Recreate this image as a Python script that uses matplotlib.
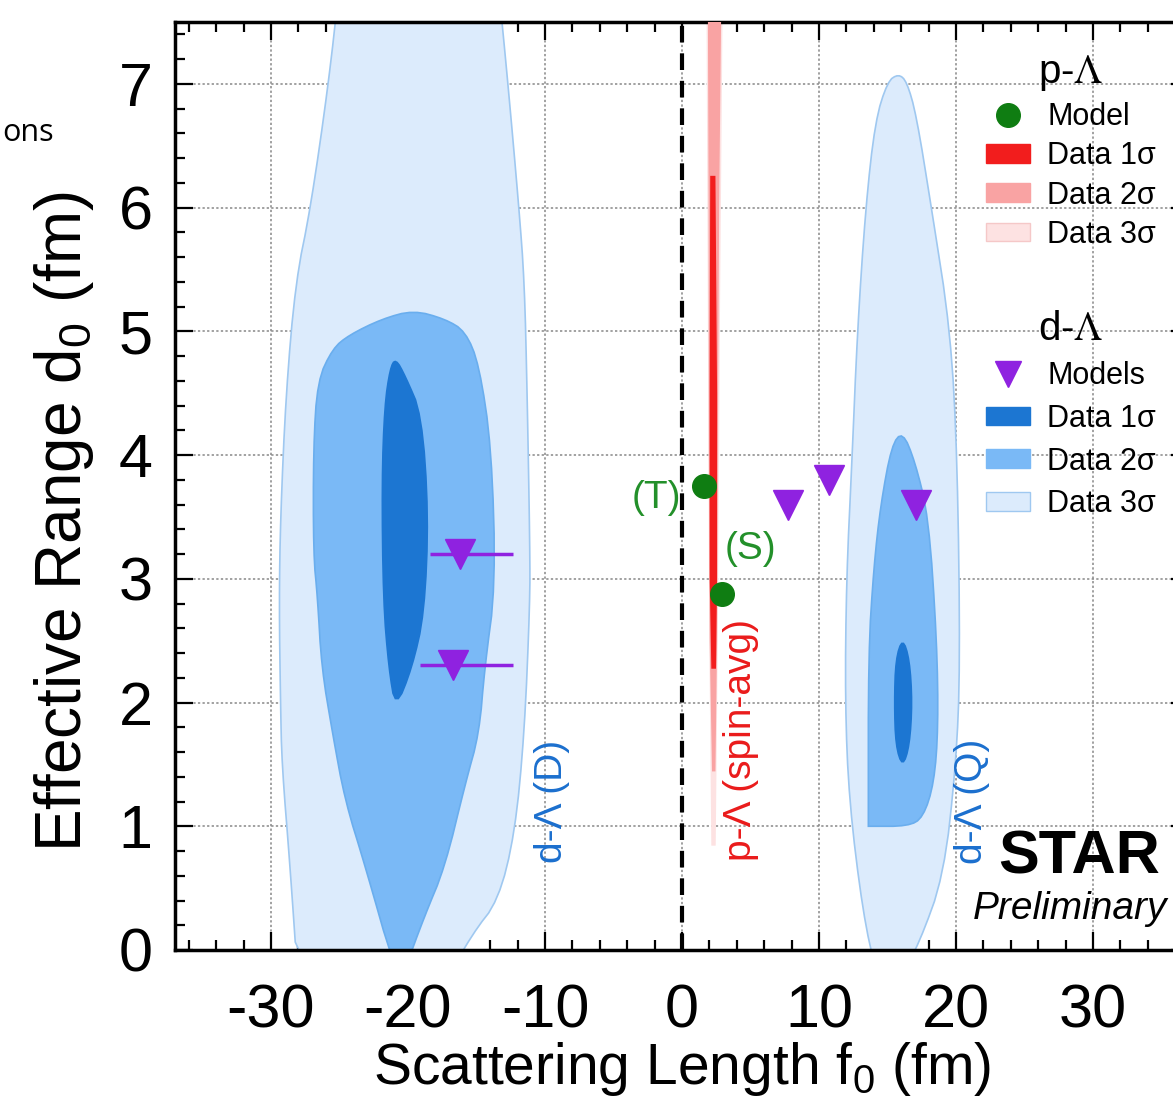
import matplotlib
matplotlib.use("Agg")
import matplotlib.pyplot as plt
from matplotlib.patches import Patch
from matplotlib.lines import Line2D
from matplotlib.font_manager import FontProperties
from matplotlib.ticker import MultipleLocator

plt.rcParams['font.family'] = ['Liberation Sans', 'DejaVu Sans']
plt.rcParams['mathtext.fontset'] = 'custom'
plt.rcParams['mathtext.rm'] = 'Liberation Sans'
plt.rcParams['mathtext.it'] = 'Liberation Sans:italic'
plt.rcParams['axes.unicode_minus'] = False

# ---- data ----
# d-Lambda contours (f0, d0), left solution
dl_left_3s = [(-25.0, 7.8), (-25.8, 7.0), (-27.1, 6.0), (-28.2, 5.4), (-28.9, 4.5), (-29.3, 3.5),
              (-29.4, 2.8), (-29.3, 2.0), (-29.2, 1.5), (-28.6, 0.67), (-28.0, -0.3), (-17.5, -0.3),
              (-15.3, 0.13), (-13.4, 0.4), (-12.2, 0.94), (-11.5, 1.75), (-11.1, 2.8), (-11.1, 3.25),
              (-11.3, 4.5), (-11.5, 5.4), (-11.9, 6.0), (-12.7, 7.0), (-13.4, 7.8)]
dl_left_2s = [(-19.6, 5.17), (-17.3, 5.1), (-15.8, 5.0), (-14.8, 4.73), (-13.9, 4.06), (-13.6, 2.95),
              (-14.4, 2.28), (-14.8, 1.75), (-15.8, 1.35), (-17.3, 0.67), (-18.8, 0.27), (-20.2, -0.15),
              (-21.0, -0.15), (-23.1, 0.67), (-24.6, 1.21), (-25.5, 1.75), (-26.3, 2.28), (-26.6, 2.85),
              (-26.9, 3.2), (-26.9, 4.06), (-26.6, 4.6), (-25.5, 4.86), (-24.3, 4.97), (-21.9, 5.1)]
dl_left_1s = [(-20.9, 4.78), (-20.2, 4.64), (-19.0, 4.33), (-18.5, 3.52), (-18.8, 2.72), (-19.7, 2.28),
              (-20.9, 1.95), (-21.4, 2.28), (-21.8, 2.82), (-21.9, 3.79), (-21.7, 4.4), (-21.3, 4.7)]
# d-Lambda contours, right solution
dl_right_3s = [(15.8, 7.08), (16.4, 7.02), (17.1, 6.75), (18.2, 6.0), (19.6, 5.0), (20.1, 3.95),
               (20.3, 2.3), (20.0, 1.5), (19.1, 0.6), (17.3, 0.05), (16.0, -0.2), (14.2, -0.2),
               (13.2, 0.3), (12.2, 1.2), (11.9, 2.0), (12.0, 3.0), (12.4, 3.95), (12.8, 5.0),
               (13.4, 6.0), (14.1, 6.7), (15.0, 7.02)]
dl_right_2s = [(16.1, 4.19), (17.0, 3.95), (18.0, 3.5), (18.6, 2.5), (18.7, 1.8), (18.4, 1.35),
               (17.6, 1.07), (16.5, 1.0), (13.6, 1.0), (13.6, 1.0), (13.6, 2.4), (14.0, 3.1),
               (14.5, 3.6), (15.3, 4.08)]
dl_right_1s = [(16.1, 2.52), (16.6, 2.35), (16.8, 2.0), (16.6, 1.65), (16.1, 1.48), (15.6, 1.65),
               (15.5, 2.0), (15.6, 2.35)]
# p-Lambda band (spin averaged)
pl_3s = [(1.85, 7.6), (2.9, 7.6), (2.7, 5.0), (2.55, 2.5), (2.4, 0.85), (2.2, 0.85), (2.05, 2.5), (1.95, 5.0)]
pl_2s = [(1.95, 7.6), (2.8, 7.6), (2.65, 6.0), (2.55, 4.0), (2.5, 2.5), (2.38, 1.45), (2.25, 1.45),
         (2.08, 2.5), (2.02, 4.0), (2.0, 6.0)]
pl_1s = [(2.12, 6.25), (2.38, 6.25), (2.5, 4.5), (2.5, 3.0), (2.42, 2.28), (2.2, 2.28), (2.08, 3.0), (2.08, 4.5)]

# p-Lambda models (T), (S)
pl_model_f0 = [1.6, 2.9]
pl_model_d0 = [3.75, 2.88]
pl_model_lab = ['(T)', '(S)']

# d-Lambda models
dl_model_f0 = [-16.2, -16.7, 7.7, 10.7, 17.1]
dl_model_d0 = [3.2, 2.3, 3.6, 3.8, 3.6]
dl_model_xlo = [2.2, 2.4, 0, 0, 0]
dl_model_xhi = [3.9, 4.4, 0, 0, 0]

x_ticks = [-30, -20, -10, 0, 10, 20, 30]
y_ticks = [0, 1, 2, 3, 4, 5, 6, 7]

# ---- colours ----
c3 = '#dcebfc'; c3e = '#9fc8f0'
c2 = '#7ab9f6'
c1 = '#1c76d2'
r3 = '#fde2e2'; r2 = '#f9a3a3'; r1 = '#f21d1d'
purple = '#8f22e0'
green = '#0f7d12'


def smooth(poly, n=2):
    # chaikin corner cutting, closed outline
    pts = list(poly)
    for _ in range(n):
        new = []
        for i in range(len(pts)):
            x0, y0 = pts[i]
            x1, y1 = pts[(i + 1) % len(pts)]
            new.append((0.75 * x0 + 0.25 * x1, 0.75 * y0 + 0.25 * y1))
            new.append((0.25 * x0 + 0.75 * x1, 0.25 * y0 + 0.75 * y1))
        pts = new
    return pts


fig = plt.figure(figsize=(11.73, 10.99), dpi=100)
ax = fig.add_axes([175 / 1173, 1 - 950 / 1099, 1014 / 1173, 928 / 1099])


def fill(poly, color, edge=None, z=1, sm=True):
    pts = smooth(poly) if sm else poly
    xs = [p[0] for p in pts]
    ys = [p[1] for p in pts]
    ax.fill(xs, ys, facecolor=color, edgecolor=edge if edge else color, lw=1.2, zorder=z)


fill(dl_left_3s, c3, c3e)
fill(dl_left_2s, c2, '#6aaeee', 2)
fill(dl_left_1s, c1, c1, 3)
fill(dl_right_3s, c3, c3e)
fill(dl_right_2s, c2, '#6aaeee', 2)
fill(dl_right_1s, c1, c1, 3)
fill(pl_3s, r3, r3, 2, sm=False)
fill(pl_2s, r2, r2, 3, sm=False)
fill(pl_1s, r1, r1, 4, sm=False)

# zero line
ax.axvline(0, color='black', lw=3, ls=(0, (4, 2.6)), zorder=5)

# models
ax.plot(pl_model_f0, pl_model_d0, 'o', color=green, ms=17, zorder=6)
ax.errorbar(dl_model_f0, dl_model_d0, xerr=[dl_model_xlo, dl_model_xhi], fmt='v',
            color=purple, ecolor=purple, elinewidth=2.5, capsize=0, ms=21, zorder=6)

ax.text(pl_model_f0[0] - 1.7, pl_model_d0[0] - 0.1, pl_model_lab[0], color='#23902a', fontsize=28,
        ha='right', va='center')
ax.text(pl_model_f0[1] + 2.1, pl_model_d0[1] + 0.36, pl_model_lab[1], color='#23902a', fontsize=28,
        ha='center', va='center')

ax.text(4.3, 1.7, 'p-Λ (spin-avg)', color='#ea1b1b', fontsize=28, rotation=90, ha='center', va='center')
ax.text(-9.5, 1.2, 'd-Λ (D)', color='#1b6fce', fontsize=28, rotation=90, ha='center', va='center')
ax.text(21.2, 1.2, 'd-Λ (Q)', color='#1b6fce', fontsize=28, rotation=90, ha='center', va='center')

ax.text(23.1, 0.74, 'STAR', fontsize=44, fontweight='bold', ha='left', va='center')
ax.text(21.2, 0.33, 'Preliminary', fontsize=28, style='italic', ha='left', va='center')

# axes
ax.set_xlim(-37, 37)
ax.set_ylim(0, 7.5)
ax.set_xticks(x_ticks)
ax.set_yticks(y_ticks)
ax.xaxis.set_minor_locator(MultipleLocator(2))
ax.yaxis.set_minor_locator(MultipleLocator(0.2))
ax.tick_params(which='both', direction='in', top=True, right=True, width=1.6)
ax.tick_params(which='major', length=13, labelsize=44)
ax.tick_params(which='minor', length=7)
ax.tick_params(axis='x', pad=24)
ax.tick_params(axis='y', pad=16)
for s in ax.spines.values():
    s.set_linewidth(2.5)
ax.grid(True, which='major', ls=(0, (1.5, 1.5)), color='#888888', lw=1.1)
ax.set_axisbelow(True)

ax.set_xlabel('Scattering Length f$_0$ (fm)', fontsize=41, labelpad=0)
ax.set_ylabel('Effective Range d$_0$ (fm)', fontsize=46)
ax.yaxis.set_label_coords(-0.078, 0.462)

# legends
title_fp = FontProperties(family='Liberation Sans', size=29, math_fontfamily='stix')
h1 = [Line2D([], [], ls='none', marker='o', ms=17, color=green),
      Patch(facecolor=r1, edgecolor=r1), Patch(facecolor=r2, edgecolor=r2), Patch(facecolor=r3, edgecolor='#f5c8c8')]
lab1 = ['Model', 'Data 1σ', 'Data 2σ', 'Data 3σ']
leg1 = ax.legend(h1, lab1, loc='upper left', bbox_to_anchor=(986 / 1173, 1 - 53 / 1099),
                 bbox_transform=fig.transFigure, frameon=False, fontsize=22, title='p-$\\Lambda$',
                 title_fontproperties=title_fp, handlelength=1.45, handleheight=0.55,
                 handletextpad=0.55, labelspacing=0.3, borderpad=0, borderaxespad=0)
ax.add_artist(leg1)
h2 = [Line2D([], [], ls='none', marker='v', ms=19, color=purple),
      Patch(facecolor=c1, edgecolor=c1), Patch(facecolor=c2, edgecolor=c2), Patch(facecolor=c3, edgecolor=c3e)]
lab2 = ['Models', 'Data 1σ', 'Data 2σ', 'Data 3σ']
ax.legend(h2, lab2, loc='upper left', bbox_to_anchor=(986 / 1173, 1 - 310 / 1099),
          bbox_transform=fig.transFigure, frameon=False, fontsize=22, title='d-$\\Lambda$',
          title_fontproperties=title_fp, handlelength=1.45, handleheight=0.55,
          handletextpad=0.55, labelspacing=0.42, borderpad=0, borderaxespad=0)

fig.text(0.002, 1 - 133 / 1099, 'ons', fontsize=22, family='Open Sans', ha='left', va='center')

fig.savefig('out.png', dpi=100)
